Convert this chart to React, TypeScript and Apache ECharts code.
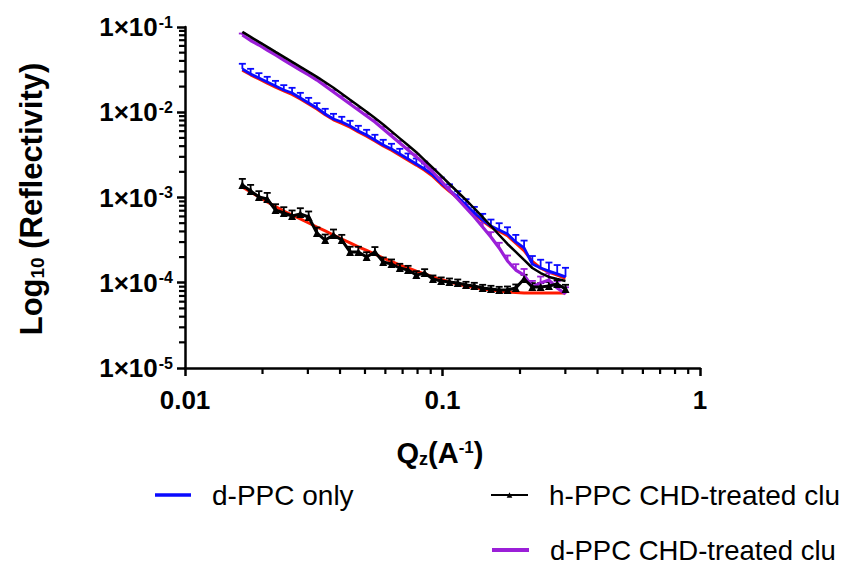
import React, { useEffect, useRef } from 'react';
import * as echarts from 'echarts';

// Q values (A^-1), shared by all measured curves
const qValues = [
  0.0167, 0.01798, 0.01937, 0.02086, 0.02246, 0.02419, 0.02605, 0.02805, 0.03021, 0.03253,
  0.03503, 0.03773, 0.04063, 0.04375, 0.04712, 0.05074, 0.05464, 0.05885, 0.06337, 0.06825,
  0.07349, 0.07914, 0.08523, 0.09178, 0.09884, 0.1064, 0.1146, 0.1234, 0.1329, 0.1432,
  0.1542, 0.166, 0.1788, 0.1926, 0.2074, 0.2233, 0.2405, 0.259, 0.2789, 0.3004,
];

// d-PPC only (blue) data and its fit (red)
const dppcOnly = [
  0.0322, 0.0281, 0.0252, 0.02265, 0.0203, 0.01824, 0.01682, 0.01469, 0.01283, 0.01122,
  0.00954, 0.00833, 0.00769, 0.0069, 0.00603, 0.00541, 0.00473, 0.00413, 0.00371, 0.00324,
  0.00283, 0.00247, 0.00216, 0.00184, 0.00148, 0.00122, 0.001014, 0.000817, 0.000658, 0.000545,
  0.000463, 0.000416, 0.000373, 0.000301, 0.000256, 0.000166, 0.000149, 0.000137, 0.000127, 0.000117,
];
const dppcOnlyErr = [
  0.15, 0.15, 0.14, 0.15, 0.15, 0.14, 0.15, 0.15, 0.15, 0.14,
  0.15, 0.15, 0.15, 0.15, 0.15, 0.15, 0.15, 0.15, 0.15, 0.15,
  0.16, 0.16, 0.16, 0.16, 0.16, 0.17, 0.17, 0.17, 0.18, 0.18,
  0.19, 0.2, 0.2, 0.21, 0.22, 0.24, 0.25, 0.26, 0.27, 0.28,
];
const dppcOnlyFit = [
  0.0312, 0.0275, 0.0246, 0.022, 0.0197, 0.0178, 0.0162, 0.0143, 0.0125, 0.0109,
  0.00935, 0.00815, 0.00742, 0.00667, 0.00587, 0.00524, 0.00459, 0.00402, 0.00358, 0.00314,
  0.00274, 0.0024, 0.00209, 0.00177, 0.00143, 0.00118, 0.000982, 0.000793, 0.00064, 0.00053,
  0.000449, 0.000403, 0.000356, 0.000292, 0.000238, 0.000178, 0.000148, 0.000133, 0.000123, 0.000113,
];

// d-PPC CHD-treated (purple) data and its fit (black)
const dppcChd = [
  0.0806, 0.0695, 0.0615, 0.0537, 0.047, 0.041, 0.0358, 0.0313, 0.02735, 0.02388,
  0.02032, 0.01728, 0.01469, 0.0125, 0.01062, 0.00903, 0.00769, 0.00637, 0.00526, 0.00436,
  0.0036, 0.00299, 0.00247, 0.00199, 0.00156, 0.00122, 0.00096, 0.000753, 0.00059, 0.000451,
  0.000344, 0.000256, 0.00018, 0.000141, 0.000123, 0.0000891, 0.0000993, 0.0001076, 0.0000867, 0.0000738,
];
const dppcChdErr = [
  0.04, 0.04, 0.04, 0.04, 0.04, 0.04, 0.04, 0.04, 0.04, 0.04,
  0.05, 0.05, 0.05, 0.05, 0.05, 0.05, 0.05, 0.06, 0.06, 0.06,
  0.06, 0.07, 0.07, 0.08, 0.08, 0.09, 0.1, 0.11, 0.12, 0.13,
  0.14, 0.15, 0.16, 0.17, 0.18, 0.18, 0.19, 0.2, 0.2, 0.2,
];
const dppcChdFit = [
  0.0875, 0.0765, 0.0668, 0.0585, 0.051, 0.0446, 0.039, 0.0341, 0.0298, 0.026,
  0.0225, 0.0194, 0.0165, 0.01402, 0.01193, 0.01016, 0.00855, 0.00718, 0.00596, 0.00494,
  0.0041, 0.0034, 0.00275, 0.00222, 0.00179, 0.00144, 0.00116, 0.000935, 0.000743, 0.00059,
  0.000463, 0.000363, 0.000285, 0.00023, 0.000185, 0.000149, 0.00013, 0.000117, 0.0001106, 0.000105,
];

// h-PPC CHD-treated (black triangles) data and its fit (red)
const hppcChd = [
  0.001401, 0.001192, 0.001014, 0.00096, 0.000713, 0.000658, 0.000607, 0.00064, 0.000591, 0.000383,
  0.000317, 0.000363, 0.000317, 0.00023, 0.00023, 0.0002, 0.00023, 0.000175, 0.000166, 0.000149,
  0.000141, 0.000123, 0.00013, 0.0001107, 0.000105, 0.000102, 0.0000993, 0.0000941, 0.0000916, 0.0000868,
  0.0000845, 0.0000822, 0.0000822, 0.0000868, 0.0001107, 0.0000891, 0.0000891, 0.0000916, 0.0000967, 0.0000845,
];
const hppcChdErr = [
  0.18, 0.18, 0.17, 0.18, 0.17, 0.17, 0.16, 0.17, 0.16, 0.16,
  0.16, 0.16, 0.15, 0.15, 0.15, 0.14, 0.14, 0.13, 0.13, 0.12,
  0.12, 0.11, 0.11, 0.1, 0.1, 0.1, 0.1, 0.09, 0.09, 0.09,
  0.09, 0.09, 0.1, 0.1, 0.12, 0.11, 0.11, 0.11, 0.11, 0.12,
];
const hppcChdFit = [
  0.001327, 0.00116, 0.001014, 0.000886, 0.000784, 0.000694, 0.000623, 0.00056, 0.000502, 0.000451,
  0.000405, 0.000363, 0.000326, 0.000293, 0.000263, 0.000239, 0.000217, 0.000195, 0.000178, 0.000161,
  0.000149, 0.000137, 0.000127, 0.000117, 0.000109, 0.000102, 0.0000967, 0.0000916, 0.000088, 0.0000845,
  0.0000822, 0.00008, 0.0000779, 0.0000769, 0.0000759, 0.0000759, 0.0000759, 0.0000759, 0.0000759, 0.0000759,
];

const seriesNames = ['d-PPC only', 'h-PPC CHD-treated clu', 'd-PPC CHD-treated clu'];
const xTickLabels = ['0.01', '0.1', '1'];
const yTickExponents = ['-5', '-4', '-3', '-2', '-1'];
const minorMultipliers = [2, 3, 4, 5, 6, 7, 8, 9];
const xMinorDecades = [0.01, 0.1];
const yMinorDecades = [1e-5, 1e-4, 1e-3, 1e-2];

const FONT = "'Liberation Sans', Arial, Helvetica, sans-serif";
const X_MIN = 0.01;
const X_MAX = 1;
const Y_MIN = 1e-5;
const Y_MAX = 0.1;

const BLUE = '#0a0aff';
const PURPLE = '#9b1fd8';
const RED = '#ff1a00';
const BLACK = '#000000';

function pairs(ys: number[]) {
  return qValues.map((q, i) => [q, ys[i]]);
}
function errData(ys: number[], errs: number[]) {
  return qValues.map((q, i) => [q, ys[i], ys[i] * (1 + errs[i])]);
}

function errorSeries(ys: number[], errs: number[], color: string, z: number) {
  return {
    type: 'custom',
    silent: true,
    clip: false,
    z,
    data: errData(ys, errs),
    encode: { x: 0, y: 1 },
    renderItem: (_params: any, api: any) => {
      const base = api.coord([api.value(0), api.value(1)]);
      const top = api.coord([api.value(0), api.value(2)]);
      const w = 3.5;
      return {
        type: 'group',
        children: [
          {
            type: 'line',
            shape: { x1: base[0], y1: base[1], x2: top[0], y2: top[1] },
            style: { stroke: color, lineWidth: 1.8 },
          },
          {
            type: 'line',
            shape: { x1: top[0] - w, y1: top[1], x2: top[0] + w, y2: top[1] },
            style: { stroke: color, lineWidth: 1.8 },
          },
        ],
      };
    },
  };
}

// minor log ticks (2..9 of each decade): a point on the axis plus a pixel direction
function minorTickSeries(data: number[][], dx: number, dy: number) {
  return {
    type: 'custom',
    silent: true,
    clip: false,
    zlevel: 1,
    z: 50,
    data,
    encode: { x: 0, y: 1 },
    renderItem: (_p: any, api: any) => {
      const pt = api.coord([api.value(0), api.value(1)]);
      return {
        type: 'group',
        children: [
          {
            type: 'line',
            shape: { x1: pt[0], y1: pt[1], x2: pt[0] + dx, y2: pt[1] + dy },
            style: { stroke: BLACK, lineWidth: 2.2 },
          },
        ],
      };
    },
  };
}

const legendText = { fontSize: 28, fontFamily: FONT, color: BLACK, padding: [0, 0, 0, 16] };

export default function App() {
  const ref = useRef<HTMLDivElement>(null);

  useEffect(() => {
    if (!ref.current) return;
    const chart = echarts.init(ref.current, null, { renderer: 'svg' });

    const yMinorData: number[][] = [];
    yMinorDecades.forEach((d) => minorMultipliers.forEach((m) => yMinorData.push([X_MIN, m * d])));
    const xMinorData: number[][] = [];
    xMinorDecades.forEach((d) => minorMultipliers.forEach((m) => xMinorData.push([m * d, Y_MIN])));

    const mainLine = { onZero: false, lineStyle: { color: BLACK, width: 2.5 } };

    const option: any = {
      animation: false,
      grid: {
        left: 185,
        right: 150,
        top: 27,
        bottom: 195,
        containLabel: false,
        outerBoundsMode: 'none',
      },
      xAxis: {
        type: 'log',
        min: X_MIN,
        max: X_MAX,
        splitLine: { show: false },
        axisLine: mainLine,
        axisTick: { length: 8, lineStyle: { color: BLACK, width: 2.5 } },
        axisLabel: {
          margin: 19,
          fontSize: 26,
          fontWeight: 'bold',
          fontFamily: FONT,
          color: BLACK,
          formatter: (v: number) => xTickLabels[Math.round(Math.log10(v)) + 2] ?? '',
        },
      },
      yAxis: {
        type: 'log',
        min: Y_MIN,
        max: Y_MAX,
        splitLine: { show: false },
        axisLine: mainLine,
        axisTick: { length: 8, lineStyle: { color: BLACK, width: 2.5 } },
        axisLabel: {
          margin: 12,
          color: BLACK,
          formatter: (v: number) => {
            const idx = Math.round(Math.log10(v)) + 5;
            return `{a|1×10}{b|${yTickExponents[idx] ?? ''}}`;
          },
          rich: {
            a: { fontSize: 26, fontWeight: 'bold', fontFamily: FONT, color: BLACK },
            b: { fontSize: 16, fontWeight: 'bold', fontFamily: FONT, color: BLACK, verticalAlign: 'top', padding: [0, 0, 0, 1] },
          },
        },
      },
      legend: [
        {
          data: [{ name: seriesNames[0], icon: 'rect' }],
          left: 155,
          top: 481,
          padding: 0,
          itemWidth: 36,
          itemHeight: 3.5,
          textStyle: legendText,
        },
        {
          data: [seriesNames[1]],
          left: 490,
          top: 481,
          padding: 0,
          itemWidth: 37,
          itemHeight: 7,
          textStyle: legendText,
        },
        {
          data: [{ name: seriesNames[2], icon: 'rect' }],
          left: 492,
          top: 536,
          padding: 0,
          itemWidth: 37,
          itemHeight: 4,
          textStyle: { ...legendText, fontSize: 27.5 },
        },
      ],
      graphic: [
        {
          type: 'text',
          x: 31,
          y: 199,
          rotation: Math.PI / 2,
          style: {
            text: '{a|Log}{s|10}{a| (Reflectivity)}',
            align: 'center',
            verticalAlign: 'middle',
            rich: {
              a: { fontSize: 31, fontWeight: 'bold', fontFamily: FONT, fill: BLACK },
              s: { fontSize: 19, fontWeight: 'bold', fontFamily: FONT, fill: BLACK, verticalAlign: 'bottom' },
            },
          },
        },
        {
          type: 'text',
          x: 440,
          y: 453,
          style: {
            text: '{a|Q}{s|z}{a|(A}{p|-1}{a|)}',
            align: 'center',
            verticalAlign: 'middle',
            rich: {
              a: { fontSize: 29, fontWeight: 'bold', fontFamily: FONT, fill: BLACK },
              s: { fontSize: 18, fontWeight: 'bold', fontFamily: FONT, fill: BLACK, verticalAlign: 'bottom' },
              p: { fontSize: 17, fontWeight: 'bold', fontFamily: FONT, fill: BLACK, verticalAlign: 'top' },
            },
          },
        },
      ],
      series: [
        {
          name: 'd-PPC only fit',
          type: 'line',
          data: pairs(dppcOnlyFit),
          symbol: 'none',
          z: 2,
          lineStyle: { color: RED, width: 3 },
          itemStyle: { color: RED },
        },
        {
          name: seriesNames[0],
          type: 'line',
          data: pairs(dppcOnly),
          symbol: 'none',
          z: 3,
          lineStyle: { color: BLUE, width: 2.8 },
          itemStyle: { color: BLUE },
        },
        errorSeries(dppcOnly, dppcOnlyErr, BLUE, 3),
        {
          name: seriesNames[2],
          type: 'line',
          data: pairs(dppcChd),
          symbol: 'none',
          z: 3,
          lineStyle: { color: PURPLE, width: 3.2 },
          itemStyle: { color: PURPLE },
        },
        errorSeries(dppcChd, dppcChdErr, PURPLE, 3),
        {
          name: 'd-PPC CHD-treated fit',
          type: 'line',
          data: pairs(dppcChdFit),
          symbol: 'none',
          z: 4,
          lineStyle: { color: BLACK, width: 2.5 },
          itemStyle: { color: BLACK },
        },
        {
          name: 'h-PPC CHD-treated fit',
          type: 'line',
          data: pairs(hppcChdFit),
          symbol: 'none',
          z: 2,
          lineStyle: { color: RED, width: 3 },
          itemStyle: { color: RED },
        },
        {
          name: seriesNames[1],
          type: 'line',
          data: pairs(hppcChd),
          symbol: 'triangle',
          symbolSize: 8,
          z: 3,
          lineStyle: { color: BLACK, width: 3 },
          itemStyle: { color: BLACK },
        },
        errorSeries(hppcChd, hppcChdErr, BLACK, 3),
        minorTickSeries(yMinorData, -6, 0),
        minorTickSeries(xMinorData, 0, 6),
      ],
    };

    chart.setOption(option);
    return () => chart.dispose();
  }, []);

  return (
    <div
      ref={ref}
      style={{ position: 'fixed', left: 0, top: 0, width: 850, height: 563, background: '#fff' }}
    />
  );
}
